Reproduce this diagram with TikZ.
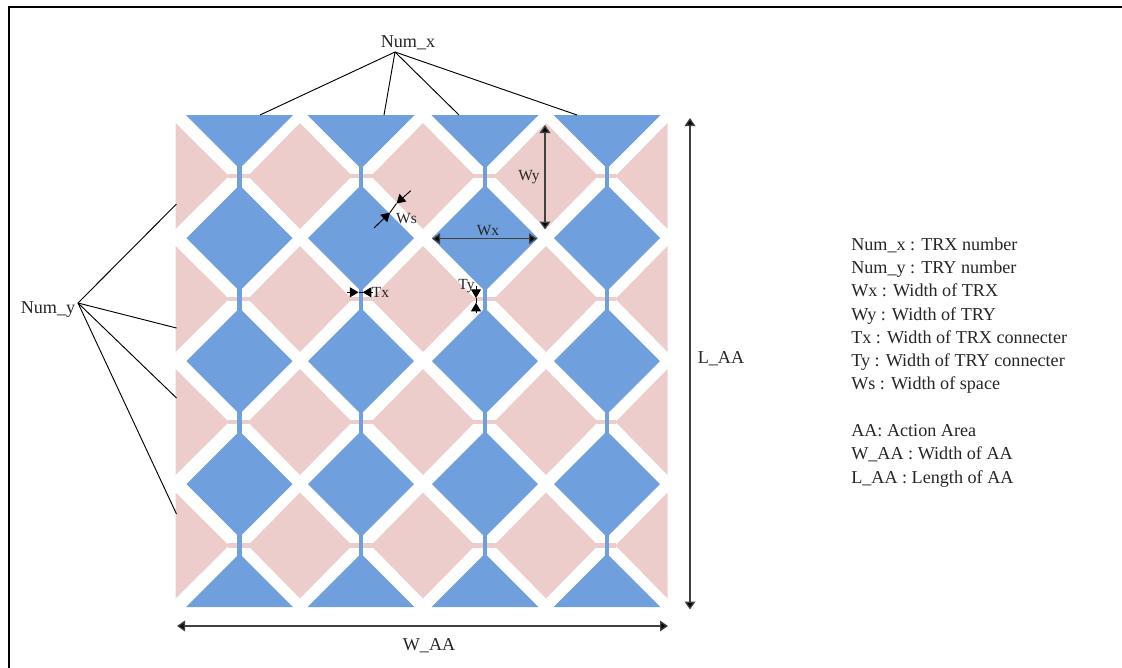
\documentclass[tikz,border=0pt]{standalone}
\usepackage{fontspec}
\setmainfont{Liberation Serif}
\usetikzlibrary{arrows.meta}
\definecolor{padblue}{HTML}{6F9FDC}
\definecolor{padpink}{HTML}{EDCDCC}
\definecolor{inkgrey}{HTML}{262626}
\tikzset{
  bluepad/.style={fill=padblue,draw=none},
  pinkpad/.style={fill=padpink,draw=none},
  leader/.style={draw=black,line width=0.7pt},
  dimline/.style={draw=black!75,line width=1pt,{Triangle[length=6pt,width=8pt,fill=black]}-{Triangle[length=6pt,width=8pt,fill=black]}},
  tinyarrow/.style={draw=black,line width=0.7pt,-{Triangle[length=6.5pt,width=7.5pt,fill=black]}},
  biglabel/.style={font=\fontsize{13.6pt}{16pt}\selectfont,text=inkgrey,inner sep=0pt},
  smalllabel/.style={font=\fontsize{11.6pt}{13pt}\selectfont,text=inkgrey,inner sep=0pt},
}
\begin{document}
\begin{tikzpicture}[x=0.75pt,y=-0.75pt]
\useasboundingbox (0,0) rectangle (1122,668);
\fill[white] (0,0) rectangle (1122,668);
\draw[black,line width=1.6pt] (9,668) -- (9,7) -- (1122,7);

% pink connector bars and pads
\foreach \yy in {176,299,422,545.5}{
  \fill[pinkpad] (228,\yy-2.2) rectangle (616,\yy+2.2);
  \fill[pinkpad] (175.5,\yy-53) -- (229,\yy) -- (175.5,\yy+53) -- cycle;
  \fill[pinkpad] (667.5,\yy-53) -- (615.5,\yy) -- (667.5,\yy+53) -- cycle;
  \foreach \xx in {300,423,546}{
    \fill[pinkpad] (\xx-52,\yy) -- (\xx,\yy-53) -- (\xx+52,\yy) -- (\xx,\yy+53) -- cycle;
  }
}
% blue connector bars and pads
\foreach \xx in {239.5,361,485,607}{
  \foreach \yy in {176,299,422,545.5}{
    \fill[bluepad] (\xx-2.4,\yy-11) rectangle (\xx+2.4,\yy+11);
  }
  \foreach \yy in {238,361,484}{
    \fill[bluepad] (\xx-53,\yy) -- (\xx,\yy-53) -- (\xx+53,\yy) -- (\xx,\yy+53) -- cycle;
  }
  \fill[bluepad] (\xx-53.5,115) -- (\xx+53.5,115) -- (\xx,168.5) -- cycle;
  \fill[bluepad] (\xx-53.5,607) -- (\xx+53.5,607) -- (\xx,553.5) -- cycle;
}

% Num_x leaders
\node[biglabel] (numx) at (408,42.5) {Num\_x};
\coordinate (numxroot) at (395,52);
\coordinate (xa) at (260,115);
\coordinate (xb) at (384,115);
\coordinate (xc) at (459,115);
\coordinate (xd) at (577,115);
\foreach \e in {xa,xb,xc,xd}{\draw[leader] (numxroot) -- (\e);}

% Num_y leaders
\node[biglabel] (numy) at (48,310) {Num\_y};
\coordinate (numyroot) at (78,303);
\coordinate (ya) at (176.5,204);
\coordinate (yb) at (176.5,328);
\coordinate (yc) at (176.5,398);
\coordinate (yd) at (176.5,514);
\foreach \e in {ya,yb,yc,yd}{\draw[leader] (numyroot) -- (\e);}

% overall dimensions
\coordinate (aaw1) at (177,626);
\coordinate (aaw2) at (668,626);
\draw[dimline] (aaw1) -- (aaw2);
\node[biglabel] (waa) at (429,645.5) {W\_AA};
\coordinate (aal1) at (690,118);
\coordinate (aal2) at (690,609.5);
\draw[dimline] (aal1) -- (aal2);
\node[biglabel] (laa) at (721,358.5) {L\_AA};

% Wx, Wy
\coordinate (wx1) at (432,238.7);
\coordinate (wx2) at (537,238.7);
\draw[dimline] (wx1) -- (wx2);
\node[smalllabel] (wxl) at (488,230.5) {Wx};
\coordinate (wy1) at (545,125);
\coordinate (wy2) at (545,229.5);
\draw[dimline] (wy1) -- (wy2);
\node[smalllabel] (wyl) at (529,177) {Wy};

% Ws
\coordinate (ws1) at (374,228);
\coordinate (ws1t) at (390,212.5);
\coordinate (ws2) at (410.7,190.7);
\coordinate (ws2t) at (396.5,203.5);
\draw[tinyarrow] (ws1) -- (ws1t);
\draw[tinyarrow] (ws2) -- (ws2t);
\draw[draw=black,line width=0.7pt] (ws1t) -- (ws2t);
\node[smalllabel] (wsl) at (406.5,218.5) {Ws};

% Tx
\coordinate (tx1) at (347.3,292.3);
\coordinate (tx1t) at (358.5,292.3);
\coordinate (tx2) at (373,292.3);
\coordinate (tx2t) at (362.7,292.3);
\draw[tinyarrow] (tx1) -- (tx1t);
\draw[tinyarrow] (tx2) -- (tx2t);
\draw[draw=black,line width=0.7pt] (tx1t) -- (tx2t);
\node[smalllabel] (txl) at (380.5,292.5) {Tx};

% Ty
\coordinate (ty1) at (476,286);
\coordinate (ty1t) at (476,298);
\coordinate (ty2) at (476,313);
\coordinate (ty2t) at (476,302.7);
\draw[tinyarrow] (ty1) -- (ty1t);
\draw[tinyarrow] (ty2) -- (ty2t);
\draw[draw=black,line width=0.7pt] (ty1t) -- (ty2t);
\node[smalllabel] (tyl) at (466.5,286.5) {Ty};

% legend
\node[anchor=north west,align=left,inner sep=0pt,text=inkgrey,
      font=\fontsize{13.6pt}{17.45pt}\selectfont] (legend) at (851,237.5) {%
Num\_x : TRX number\\
Num\_y : TRY number\\
Wx : Width of TRX\\
Wy : Width of TRY\\
Tx : Width of TRX connecter\\
Ty : Width of TRY connecter\\
Ws : Width of space\\[17.45pt]
AA: Action Area\\
W\_AA : Width of AA\\
L\_AA : Length of AA};
\end{tikzpicture}
\end{document}
